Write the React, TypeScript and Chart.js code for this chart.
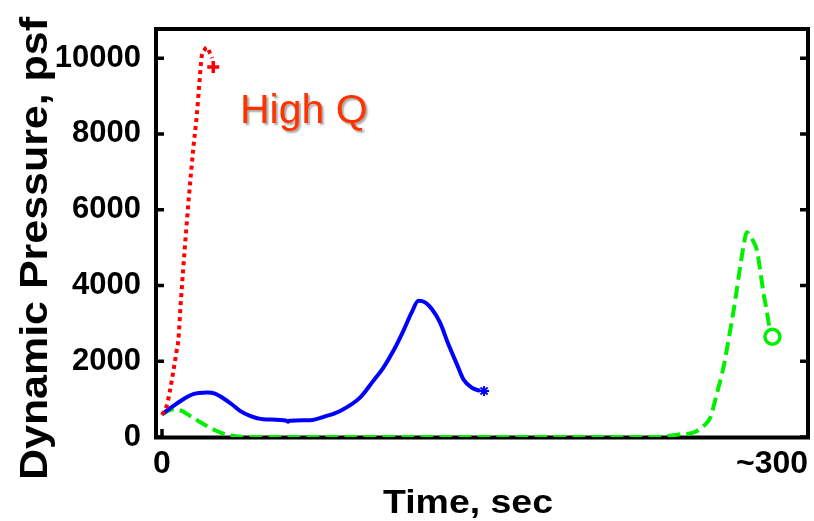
import React, { useEffect, useRef } from "react";
import { Chart, registerables } from "chart.js";

Chart.register(...registerables);

// ---- data (time in sec, dynamic pressure in psf) ----
const RED_T = [0, 2.3, 3.9, 5.6, 7.2, 8.0, 9.3, 11.3, 13.3, 15.4, 17.1, 18.3, 19.5, 20.8, 22.1, 23.6, 24.7];
const RED_Q = [582, 820, 1217, 1746, 2275, 2540, 3600, 5050, 6380, 7620, 8490, 9290, 10030, 10210, 10290, 10130, 10000];
const RED_END_T = [25.2];
const RED_END_Q = [9770];

const BLUE_T = [0, 5.6, 10.5, 15.4, 22.0, 26.1, 30.1, 34.3, 38.4, 43.3, 49.8, 61.3, 62.0, 62.7, 72.8, 81.0, 87.6, 97.4, 103.9, 108.9, 113.8, 118.7, 122.8, 126.1, 129.4, 132.7, 136.7, 140.8, 145.0, 148.2, 152.3, 156.4];
const BLUE_Q = [600, 820, 997, 1130, 1172, 1146, 1024, 865, 688, 556, 468, 430, 400, 430, 442, 556, 688, 1040, 1481, 1833, 2275, 2804, 3288, 3598, 3553, 3378, 3024, 2452, 1923, 1526, 1304, 1217];
const BLUE_END_T = [158.4];
const BLUE_END_Q = [1217];

const GREEN_T = [0, 5.6, 9.7, 13.8, 17.9, 22.0, 26.1, 30.2, 35.1, 41.7, 240, 247.4, 254.8, 261.3, 266.3, 269.6, 272.8, 276.1, 279.4, 281.9, 284.3, 286.8, 287.6, 290.1, 292.6, 294.2, 295.9, 297.4, 298.7];
const GREEN_Q = [600, 733, 688, 556, 423, 291, 177, 87, 26, 0, 0, 13, 71, 114, 291, 511, 1130, 1833, 2804, 3598, 4479, 5272, 5405, 5230, 4921, 4392, 3775, 3333, 2892];
const GREEN_END_T = [300.2];
const GREEN_END_Q = [2646];

const X_TICK_VALUES = [0, 300];
const X_TICK_LABELS = ["0", "~300"];
const Y_TICK_VALUES = [0, 2000, 4000, 6000, 8000, 10000];
const Y_TICK_LABELS = ["0", "2000", "4000", "6000", "8000", "10000"];

const X_TITLE = "Time, sec";
const Y_TITLE = "Dynamic Pressure, psf";
const NOTE = "High Q";

const pts = (xs: number[], ys: number[]) => xs.map((x, i) => ({ x, y: ys[i] }));

const FONT = "'Liberation Sans', Arial, Helvetica, sans-serif";

const framePlugin = {
  id: "frameAndText",
  beforeDatasetsDraw(chart: any) {
    const { ctx, chartArea, scales } = chart;
    const { left, right, top, bottom } = chartArea;
    ctx.save();
    ctx.strokeStyle = "#000";
    ctx.lineWidth = 3.5;
    ctx.lineCap = "butt";
    const tl = 8;
    Y_TICK_VALUES.forEach((v) => {
      const py = scales.y.getPixelForValue(v);
      ctx.beginPath();
      ctx.moveTo(left, py);
      ctx.lineTo(left + tl, py);
      ctx.moveTo(right, py);
      ctx.lineTo(right - tl, py);
      ctx.stroke();
    });
    {
      const px = scales.x.getPixelForValue(X_TICK_VALUES[0]);
      ctx.beginPath();
      ctx.moveTo(px, bottom);
      ctx.lineTo(px, bottom - tl);
      ctx.stroke();
    }
    ctx.lineWidth = 4;
    ctx.strokeRect(left, top, right - left, bottom - top + 0.5);
    ctx.restore();
  },
  afterDraw(chart: any) {
    const { ctx } = chart;
    ctx.save();
    ctx.fillStyle = "#000";
    ctx.font = `bold 33px ${FONT}`;
    ctx.textAlign = "center";
    ctx.textBaseline = "alphabetic";
    let w = ctx.measureText(X_TITLE).width;
    ctx.save();
    ctx.translate(468, 513);
    ctx.scale(170 / w, 1);
    ctx.fillText(X_TITLE, 0, 0);
    ctx.restore();

    ctx.font = `bold 38px ${FONT}`;
    w = ctx.measureText(Y_TITLE).width;
    ctx.save();
    ctx.translate(47, 248.5);
    ctx.rotate(-Math.PI / 2);
    ctx.scale(463 / w, 1);
    ctx.fillText(Y_TITLE, 0, 0);
    ctx.restore();

    ctx.font = `41px ${FONT}`;
    ctx.textAlign = "left";
    ctx.shadowColor = "rgba(0,0,0,0.35)";
    ctx.shadowOffsetX = 2;
    ctx.shadowOffsetY = 2;
    ctx.shadowBlur = 2;
    ctx.fillStyle = "#ff3300";
    ctx.fillText(NOTE, 240, 123);
    ctx.restore();
  },
};

export default function App() {
  const ref = useRef<HTMLCanvasElement | null>(null);
  useEffect(() => {
    if (!ref.current) return;
    const lineBase = { pointRadius: 0, fill: false, borderWidth: 4, cubicInterpolationMode: "monotone" };
    const chart = new Chart(ref.current, {
      type: "line",
      data: {
        datasets: [
          { ...lineBase, label: "red", data: pts(RED_T, RED_Q), borderColor: "#ff0000", borderDash: [4, 4] },
          { ...lineBase, label: "blue", data: pts(BLUE_T, BLUE_Q), borderColor: "#0000ff" },
          { ...lineBase, label: "green", data: pts(GREEN_T, GREEN_Q), borderColor: "#00f000", borderDash: [13, 6] },
          {
            label: "red end",
            data: pts(RED_END_T, RED_END_Q),
            showLine: false,
            pointStyle: "cross",
            pointRadius: 6,
            borderColor: "#ff0000",
            pointBorderWidth: 3.5,
          },
          {
            label: "blue end",
            data: pts(BLUE_END_T, BLUE_END_Q),
            showLine: false,
            pointStyle: "star",
            pointRadius: 5,
            borderColor: "#0000ff",
            pointBorderWidth: 2,
          },
          {
            label: "green end",
            data: pts(GREEN_END_T, GREEN_END_Q),
            showLine: false,
            pointStyle: "circle",
            pointRadius: 7.5,
            borderColor: "#00f000",
            backgroundColor: "rgba(255,255,255,0)",
            pointBorderWidth: 3.5,
          },
        ],
      },
      options: {
        animation: false,
        responsive: false,
        layout: { autoPadding: false, padding: { top: 29, right: 6, left: 0, bottom: 0 } },
        plugins: { legend: { display: false }, tooltip: { enabled: false } },
        scales: {
          x: {
            type: "linear",
            min: -2.95,
            max: 317.7,
            afterBuildTicks: (s: any) => {
              s.ticks = X_TICK_VALUES.map((v) => ({ value: v }));
            },
            afterFit: (s: any) => {
              s.height = 84;
              s.paddingLeft = 0;
              s.paddingRight = 0;
            },
            ticks: {
              autoSkip: false,
              maxRotation: 0,
              padding: 8,
              color: "#000",
              font: { family: FONT, size: 32, weight: "bold" },
              callback: (v: any) => {
                const i = X_TICK_VALUES.indexOf(Number(v));
                return i >= 0 ? X_TICK_LABELS[i] : "";
              },
            },
            grid: { display: false, drawTicks: false },
            border: { display: false },
          },
          y: {
            type: "linear",
            min: 0,
            max: 10770,
            afterBuildTicks: (s: any) => {
              s.ticks = Y_TICK_VALUES.map((v) => ({ value: v }));
            },
            afterFit: (s: any) => {
              s.width = 156;
              s.paddingTop = 0;
              s.paddingBottom = 0;
            },
            ticks: {
              autoSkip: false,
              padding: 15,
              color: "#000",
              font: { family: FONT, size: 31, weight: "bold" },
              callback: (v: any) => {
                const i = Y_TICK_VALUES.indexOf(Number(v));
                return i >= 0 ? Y_TICK_LABELS[i] : "";
              },
            },
            grid: { display: false, drawTicks: false },
            border: { display: false },
          },
        },
      },
      plugins: [framePlugin],
    } as any);
    return () => chart.destroy();
  }, []);
  return (
    <div style={{ position: "absolute", left: 0, top: 0, width: 814, height: 521, background: "#fff" }}>
      <canvas ref={ref} width={814} height={521} style={{ display: "block" }} />
    </div>
  );
}
